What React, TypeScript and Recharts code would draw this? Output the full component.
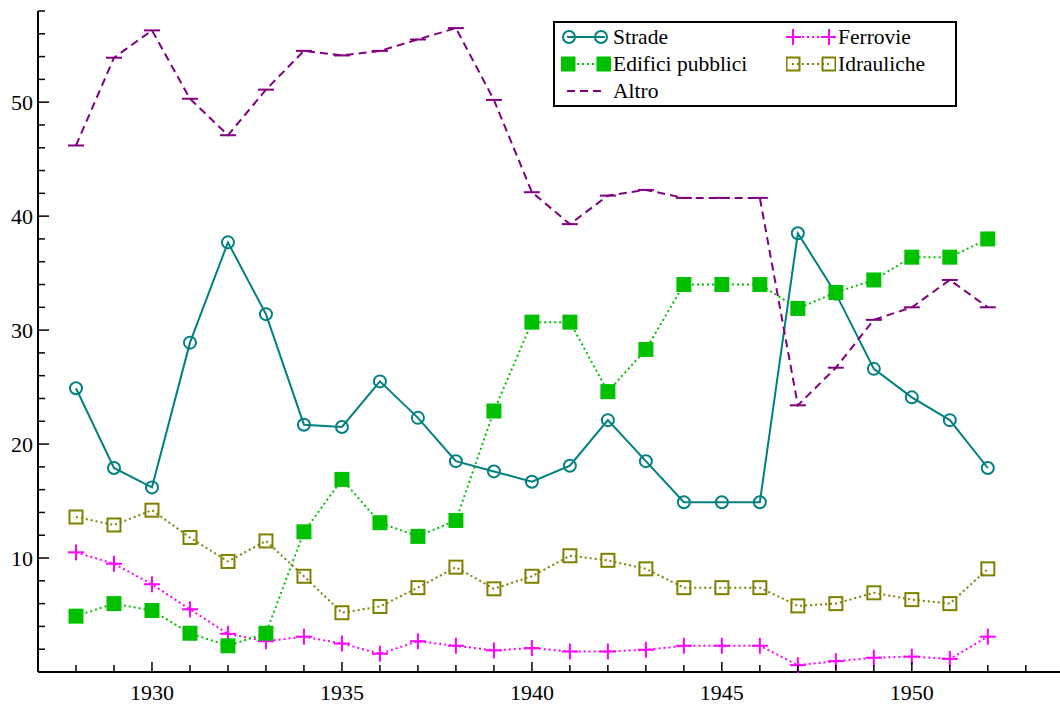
import React from "react";
import { Legend, Line, LineChart, XAxis, YAxis } from "recharts";

const years = [
  1928, 1929, 1930, 1931, 1932, 1933, 1934, 1935, 1936, 1937, 1938, 1939, 1940,
  1941, 1942, 1943, 1944, 1945, 1946, 1947, 1948, 1949, 1950, 1951, 1952,
];
const strade = [
  24.9, 17.9, 16.2, 28.9, 37.7, 31.4, 21.7, 21.5, 25.5, 22.3, 18.5, 17.6, 16.7,
  18.1, 22.1, 18.5, 14.9, 14.9, 14.9, 38.5, 33.2, 26.6, 24.1, 22.1, 17.9,
];
const ferrovie = [
  10.5, 9.5, 7.7, 5.5, 3.35, 2.7, 3.1, 2.5, 1.6, 2.7, 2.3, 1.9, 2.1, 1.8, 1.8,
  1.95, 2.3, 2.3, 2.3, 0.6, 0.95, 1.25, 1.35, 1.15, 3.1,
];
const edifici = [
  4.9, 6.0, 5.4, 3.4, 2.3, 3.4, 12.3, 16.9, 13.1, 11.9, 13.3, 22.9, 30.7, 30.7,
  24.6, 28.3, 34.0, 34.0, 34.0, 31.9, 33.3, 34.4, 36.4, 36.4, 38.0,
];
const idrauliche = [
  13.6, 12.9, 14.2, 11.8, 9.7, 11.5, 8.4, 5.2, 5.75, 7.4, 9.2, 7.3, 8.4, 10.2,
  9.8, 9.05, 7.4, 7.4, 7.4, 5.8, 6.0, 6.95, 6.35, 6.0, 9.05,
];
const altro = [
  46.2, 53.9, 56.3, 50.3, 47.1, 51.1, 54.5, 54.1, 54.5, 55.5, 56.5, 50.2, 42.1,
  39.3, 41.8, 42.3, 41.6, 41.6, 41.6, 23.4, 26.7, 30.9, 32.0, 34.4, 32.0,
];

const xTicks = [
  1928, 1929, 1930, 1931, 1932, 1933, 1934, 1935, 1936, 1937, 1938, 1939, 1940,
  1941, 1942, 1943, 1944, 1945, 1946, 1947, 1948, 1949, 1950, 1951, 1952, 1953,
];
const xLabels = [1930, 1935, 1940, 1945, 1950];
const yTicks = [
  2, 4, 6, 8, 10, 12, 14, 16, 18, 20, 22, 24, 26, 28, 30, 32, 34, 36, 38, 40,
  42, 44, 46, 48, 50, 52, 54, 56, 58,
];
const yLabels = [10, 20, 30, 40, 50];

const data = years.map((year, i) => ({
  year,
  strade: strade[i],
  ferrovie: ferrovie[i],
  edifici: edifici[i],
  idrauliche: idrauliche[i],
  altro: altro[i],
}));

const FONT = "'Liberation Serif', 'Times New Roman', serif";
const TEAL = "#008080";
const GREEN = "#00c000";
const MAGENTA = "#ff00ff";
const OLIVE = "#808000";
const PURPLE = "#800080";

type Kind = "circle" | "square" | "hollow" | "plus" | "dash";

const Marker = ({ kind, cx, cy, color }: { kind: Kind; cx: number; cy: number; color: string }) => {
  if (cx == null || cy == null) return null;
  switch (kind) {
    case "circle":
      return <circle cx={cx} cy={cy} r={6} fill="none" stroke={color} strokeWidth={2} />;
    case "square":
      return <rect x={cx - 7.5} y={cy - 7.5} width={15} height={15} fill={color} />;
    case "hollow":
      return (
        <rect x={cx - 6.5} y={cy - 6.5} width={13} height={13} fill="none" stroke={color} strokeWidth={2} />
      );
    case "plus":
      return (
        <g stroke={color} strokeWidth={2}>
          <line x1={cx - 8} x2={cx + 8} y1={cy} y2={cy} />
          <line x1={cx} x2={cx} y1={cy - 8} y2={cy + 8} />
        </g>
      );
    default:
      return <line x1={cx - 8} x2={cx + 8} y1={cy} y2={cy} stroke={color} strokeWidth={2} />;
  }
};

const dotFor = (kind: Kind, color: string, name: string) => (p: any) =>
  <Marker key={`${name}-${p.index}`} kind={kind} cx={p.cx} cy={p.cy} color={color} />;

const XTick = ({ x, y, payload }: any) => {
  const major = xLabels.includes(payload.value);
  return (
    <g>
      <line x1={x} x2={x} y1={y} y2={y - (major ? 10 : 7)} stroke="#000" strokeWidth={1.5} />
      {major && (
        <text x={x} y={y + 20} textAnchor="middle" dominantBaseline="central" fontSize={22} fontFamily={FONT} fill="#000">
          {payload.value}
        </text>
      )}
    </g>
  );
};

const YTick = ({ x, y, payload }: any) => {
  const major = yLabels.includes(payload.value);
  return (
    <g>
      <line x1={x} x2={x + (major ? 11 : 7)} y1={y} y2={y} stroke="#000" strokeWidth={1.5} />
      {major && (
        <text x={x - 5} y={y} textAnchor="end" dominantBaseline="central" fontSize={22} fontFamily={FONT} fill="#000">
          {payload.value}
        </text>
      )}
    </g>
  );
};

const legendItems: { label: string; color: string; kind: Kind; dash?: string; left: number; top: number }[] = [
  { label: "Strade", color: TEAL, kind: "circle", left: 8, top: 16 },
  { label: "Ferrovie", color: MAGENTA, kind: "plus", dash: "2 3", left: 233, top: 16 },
  { label: "Edifici pubblici", color: GREEN, kind: "square", dash: "2 3", left: 8, top: 43 },
  { label: "Idrauliche", color: OLIVE, kind: "hollow", dash: "2 3", left: 233, top: 43 },
  { label: "Altro", color: PURPLE, kind: "dash", dash: "8 5", left: 8, top: 70 },
];

const LegendBox = () => (
  <div
    style={{
      position: "relative",
      boxSizing: "border-box",
      width: 404,
      height: 86,
      border: "2px solid #000",
      background: "#fff",
      fontFamily: FONT,
      fontSize: 21.5,
      color: "#000",
    }}
  >
    {legendItems.map((it) => (
      <div key={it.label} style={{ position: "absolute", left: it.left - 2, top: it.top - 14, height: 24 }}>
        <svg width={50} height={24} style={{ position: "absolute", left: 0, top: 0 }}>
          <line x1={6} x2={44} y1={12} y2={12} stroke={it.color} strokeWidth={2} strokeDasharray={it.dash} />
          {it.kind !== "dash" && (
            <>
              <Marker kind={it.kind} cx={it.kind === "circle" ? 8 : 7} cy={12} color={it.color} />
              <Marker kind={it.kind} cx={it.kind === "circle" ? 40 : 43} cy={12} color={it.color} />
            </>
          )}
        </svg>
        <span style={{ position: "absolute", left: 52, top: 0, lineHeight: "24px", whiteSpace: "nowrap" }}>
          {it.label}
        </span>
      </div>
    ))}
  </div>
);

export default function App() {
  return (
    <div style={{ position: "absolute", left: 0, top: 0, background: "#fff" }}>
      <LineChart width={1060} height={704} data={data} margin={{ top: 11, right: 0, left: 0, bottom: 0 }}>
        <XAxis
          dataKey="year"
          type="number"
          domain={[1927, 1953.9]}
          allowDataOverflow
          ticks={xTicks}
          interval={0}
          height={32}
          tickSize={0}
          tickMargin={0}
          tickLine={false}
          axisLine={{ stroke: "#000", strokeWidth: 2 }}
          tick={<XTick />}
        />
        <YAxis
          type="number"
          domain={[0, 58]}
          ticks={yTicks}
          interval={0}
          width={38}
          tickSize={0}
          tickMargin={0}
          tickLine={false}
          axisLine={{ stroke: "#000", strokeWidth: 2 }}
          tick={<YTick />}
        />
        <Legend
          layout="vertical"
          align="center"
          verticalAlign="middle"
          wrapperStyle={{ left: 553, top: 21, width: 404 }}
          content={() => <LegendBox />}
        />
        <Line
          dataKey="strade"
          stroke={TEAL}
          strokeWidth={2}
          dot={dotFor("circle", TEAL, "strade")}
          activeDot={false}
          isAnimationActive={false}
        />
        <Line
          dataKey="ferrovie"
          stroke={MAGENTA}
          strokeWidth={2}
          strokeDasharray="2 3"
          dot={dotFor("plus", MAGENTA, "ferrovie")}
          activeDot={false}
          isAnimationActive={false}
        />
        <Line
          dataKey="edifici"
          stroke={GREEN}
          strokeWidth={2}
          strokeDasharray="2 3"
          dot={dotFor("square", GREEN, "edifici")}
          activeDot={false}
          isAnimationActive={false}
        />
        <Line
          dataKey="idrauliche"
          stroke={OLIVE}
          strokeWidth={2}
          strokeDasharray="2 3"
          dot={dotFor("hollow", OLIVE, "idrauliche")}
          activeDot={false}
          isAnimationActive={false}
        />
        <Line
          dataKey="altro"
          stroke={PURPLE}
          strokeWidth={2}
          strokeDasharray="8 5"
          dot={dotFor("dash", PURPLE, "altro")}
          activeDot={false}
          isAnimationActive={false}
        />
      </LineChart>
    </div>
  );
}
